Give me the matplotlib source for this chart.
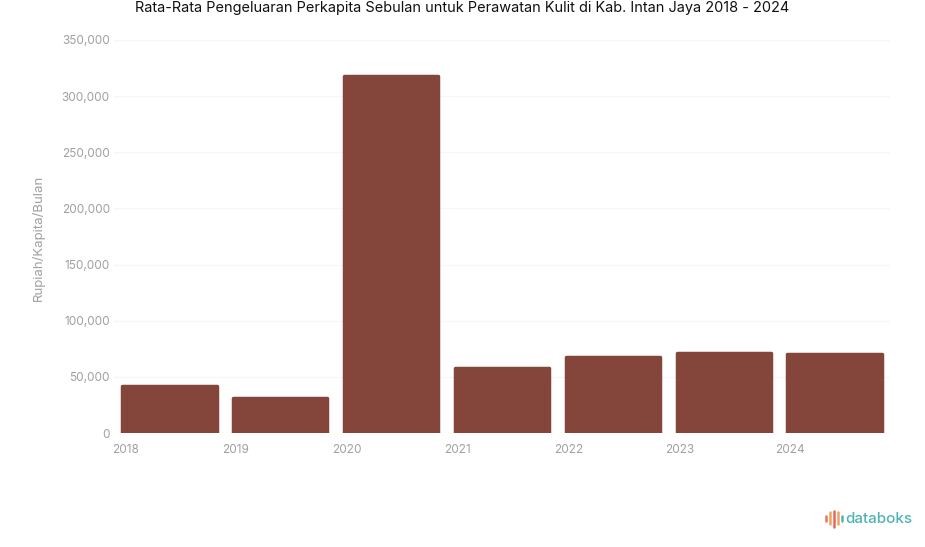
# -*- coding: utf-8 -*-
"""
  Rata-rata pengeluaran perkapita, bar chart
"""

import matplotlib
matplotlib.use('Agg')
import matplotlib.pyplot as plt

plt.rcParams['font.family'] = ['Inter', 'DejaVu Sans']

# data
years = ['2018', '2019', '2020', '2021', '2022', '2023', '2024']
values = [42000, 31500, 317500, 58000, 68000, 71000, 70000]
y_ticks = [0, 50000, 100000, 150000, 200000, 250000, 300000, 350000]

title = 'Rata-Rata Pengeluaran Perkapita Sebulan untuk Perawatan Kulit di Kab. Intan Jaya 2018 - 2024'

W, H = 925, 547
fig = plt.figure(figsize=(W / 100, H / 100), dpi=100)

# plot area in pixels: x 114-890, y 40-433
ax = fig.add_axes([114 / W, 1 - 433 / H, 776 / W, 393 / H])

x = list(range(len(years)))
ax.bar(x, values, width=0.85, color='#84463a', edgecolor='#84463a',
       linewidth=2.5, joinstyle='round', zorder=3)

ax.set_xlim(-0.5, len(years) - 0.5)
ax.set_ylim(0, 350000)

# year labels sit near the left edge of each band
ax.set_xticks([i - 0.4 for i in x])
ax.set_xticklabels(years)
ax.set_yticks(y_ticks)
ax.set_yticklabels(['{:,}'.format(v) for v in y_ticks])
ax.tick_params(axis='both', length=0, labelsize=8.5, labelcolor='#a0a0a0')
ax.tick_params(axis='x', pad=8)
ax.tick_params(axis='y', pad=3)

ax.grid(axis='y', color='#f6f6f6', linewidth=1, zorder=0)
for s in ax.spines.values():
    s.set_visible(False)

fig.text(462 / W, 1 - 8 / H, title, ha='center', va='center',
         fontsize=10.45, color='#111111')
fig.text(38 / W, 1 - 238 / H, 'Rupiah/Kapita/Bulan', rotation=90, ha='center',
         va='center', fontsize=9.5, color='#a0a0a0')

# databoks logo
fig.text(845 / W, 1 - 519 / H, 'databoks', ha='left', va='center',
         fontsize=10.9, fontweight='medium', color='#4fb3b0')
logo_x = [826, 830, 834, 838, 842]
logo_top = [516, 512, 511, 512, 516]
logo_bot = [521, 524, 527, 524, 521]
logo_col = ['#e8775a', '#f0a35e', '#e8675a', '#f0a35e', '#4fb3b0']
for lx, t, b, c in zip(logo_x, logo_top, logo_bot, logo_col):
    fig.add_artist(plt.Line2D([lx / W, lx / W], [1 - t / H, 1 - b / H],
                              color=c, linewidth=1.8, solid_capstyle='round'))

fig.savefig('out.png', dpi=100)
